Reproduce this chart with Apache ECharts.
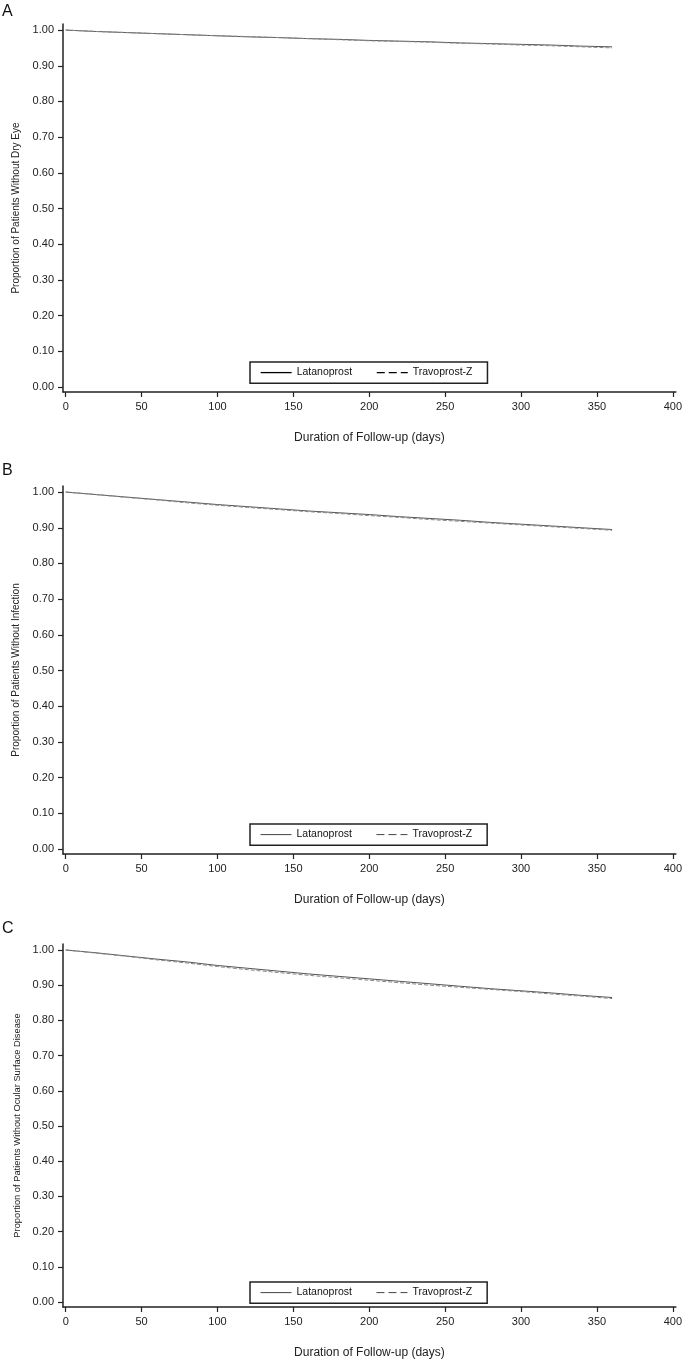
<!DOCTYPE html>
<html>
<head>
<meta charset="utf-8">
<script src="https://cdn.jsdelivr.net/npm/echarts@6/dist/echarts.min.js"></script>
<style>
html,body{margin:0;padding:0;background:#fff;}
#chart{width:685px;height:1360px;}
</style>
</head>
<body>
<div id="chart"></div>
<script>
// ---- Data ----
const days = [0,20,40,60,80,100,120,140,160,180,200,220,240,260,280,300,320,340,360];
const seriesNames = ['Latanoprost','Travoprost-Z'];
const panelLetters = ['A','B','C'];
const yTitles = ['Proportion of Patients Without Dry Eye','Proportion of Patients Without Infection','Proportion of Patients Without Ocular Surface Disease'];
const xTitle = 'Duration of Follow-up (days)';
const xTicks = [0,50,100,150,200,250,300,350,400];
const yTicks = [0,0.1,0.2,0.3,0.4,0.5,0.6,0.7,0.8,0.9,1.0];

const dryEyeLatanoprost  = [1.000,0.996,0.993,0.990,0.987,0.984,0.981,0.979,0.976,0.974,0.971,0.969,0.967,0.964,0.962,0.960,0.958,0.955,0.953];
const dryEyeTravoprost   = [1.000,0.996,0.993,0.990,0.987,0.984,0.982,0.979,0.976,0.973,0.970,0.968,0.966,0.963,0.961,0.958,0.956,0.953,0.950];
const infectLatanoprost  = [1.000,0.993,0.986,0.979,0.972,0.965,0.959,0.953,0.947,0.942,0.937,0.931,0.926,0.921,0.915,0.910,0.905,0.900,0.895];
const infectTravoprost   = [1.000,0.993,0.985,0.978,0.970,0.963,0.957,0.951,0.945,0.940,0.934,0.929,0.923,0.918,0.913,0.908,0.903,0.898,0.893];
const osdLatanoprost     = [1.000,0.992,0.983,0.974,0.966,0.956,0.948,0.940,0.932,0.925,0.918,0.911,0.904,0.897,0.890,0.884,0.878,0.871,0.865];
const osdTravoprost      = [1.000,0.991,0.982,0.972,0.963,0.953,0.944,0.936,0.928,0.921,0.914,0.907,0.900,0.894,0.888,0.882,0.875,0.869,0.862];

const panelData = [
  [dryEyeLatanoprost, dryEyeTravoprost],
  [infectLatanoprost, infectTravoprost],
  [osdLatanoprost, osdTravoprost]
];

// ---- Layout ----
const FONT = '"Liberation Sans", Arial, sans-serif';
const gridTops = [24, 486, 944];
const letterTops = [4, 463, 921];
const legendTops = [362, 824, 1282];
const yTitleSizes = [10, 10, 9.3];
const axisColor = '#222';
const hidden = {color: 'rgba(0,0,0,0)', borderColor: 'rgba(0,0,0,0)', borderWidth: 0, opacity: 0};

const grids = [], xAxes = [], yAxes = [], series = [], titles = [], legends = [];
gridTops.forEach((top, i) => {
  grids.push({left: 63, top: top, width: 614, height: 368, containLabel: false});
  xAxes.push({
    type: 'value', gridIndex: i, min: -1.8, max: 402,
    name: xTitle, nameLocation: 'middle', nameGap: 40,
    nameTextStyle: {fontFamily: FONT, fontSize: 12, color: axisColor},
    axisLine: {show: true, onZero: false, lineStyle: {color: axisColor, width: 1.5}},
    axisTick: {show: true, length: 5, customValues: xTicks, lineStyle: {color: axisColor, width: 1.2}},
    axisLabel: {customValues: xTicks, margin: 9, fontFamily: FONT, fontSize: 11, color: axisColor},
    splitLine: {show: false}
  });
  yAxes.push({
    type: 'value', gridIndex: i, min: -0.014, max: 1.017,
    name: yTitles[i], nameLocation: 'middle', nameGap: 38, nameRotate: 90,
    nameTextStyle: {fontFamily: FONT, fontSize: yTitleSizes[i], color: axisColor},
    axisLine: {show: true, onZero: false, lineStyle: {color: axisColor, width: 1.5}},
    axisTick: {show: true, length: 5, customValues: yTicks, lineStyle: {color: axisColor, width: 1.2}},
    axisLabel: {customValues: yTicks, margin: 9, fontFamily: FONT, fontSize: 11, color: axisColor,
      formatter: v => v.toFixed(2)},
    splitLine: {show: false}
  });
  titles.push({text: panelLetters[i], left: 2, top: letterTops[i], padding: 0,
    textStyle: {fontFamily: FONT, fontSize: 16, fontWeight: 'normal', color: '#111'}});
  const legendColor = i === 0 ? '#000' : '#444';
  legends.push({
    left: 250, top: legendTops[i], orient: 'horizontal',
    padding: [5, 15, 5, 10], itemGap: 24, itemWidth: 31, itemHeight: 14,
    borderColor: '#222', borderWidth: 1.5, selectedMode: false,
    textStyle: {fontFamily: FONT, fontSize: 10.5, color: '#111'},
    data: [
      {name: seriesNames[0], itemStyle: hidden, lineStyle: {color: legendColor, width: i === 0 ? 1.3 : 1, type: 'solid'}},
      {name: seriesNames[1], itemStyle: hidden, lineStyle: {color: legendColor, width: i === 0 ? 1.3 : 1, type: [8, 4]}}
    ]
  });
  panelData[i].forEach((vals, k) => {
    series.push({
      type: 'line', name: seriesNames[k], xAxisIndex: i, yAxisIndex: i,
      data: days.map((d, j) => [d, vals[j]]),
      symbol: 'none', showSymbol: false, silent: true, animation: false,
      lineStyle: k === 0 ? {color: '#555', width: 1} : {color: '#888', width: 1, type: [4, 2]},
      itemStyle: {color: k === 0 ? '#555' : '#888'}
    });
  });
});

const chart = echarts.init(document.getElementById('chart'), null, {renderer: 'canvas'});
chart.setOption({
  animation: false,
  backgroundColor: '#fff',
  title: titles, grid: grids, xAxis: xAxes, yAxis: yAxes, legend: legends, series: series
});
</script>
</body>
</html>
